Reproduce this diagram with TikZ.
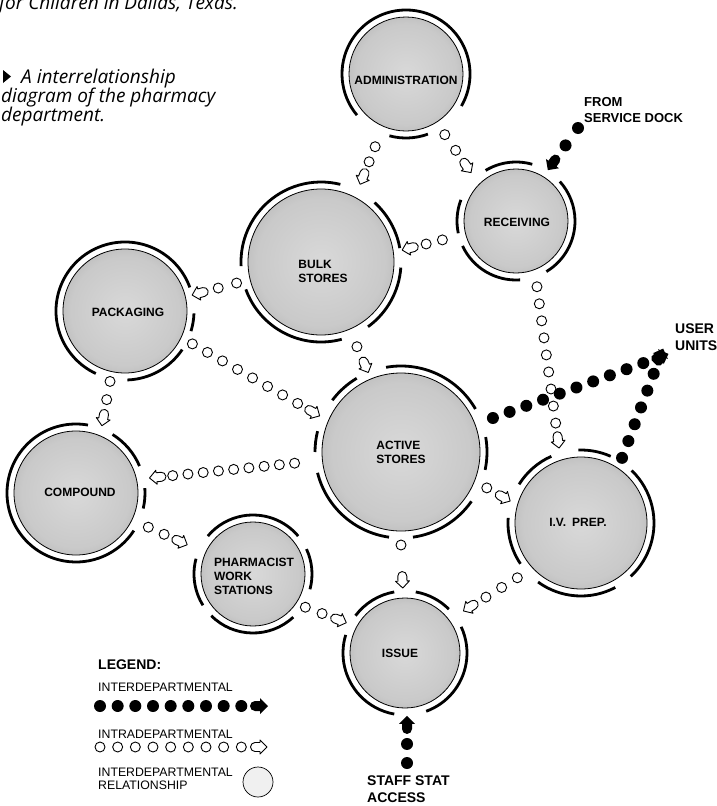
\documentclass[tikz,border=0pt]{standalone}
\usepackage{fontspec}
\setmainfont{Liberation Sans}
\newfontfamily\capfont{Open Sans}
\usetikzlibrary{calc}

% grainy department disc: lighter middle, darker rim
\pgfdeclareradialshading{stipple}{\pgfpoint{0bp}{0bp}}{%
  color(0bp)=(black!15); color(22bp)=(black!21); color(40bp)=(black!38); color(50bp)=(black!48)}

\tikzset{
  dept/.style={circle, draw=black, line width=0.8pt, inner sep=0pt, outer sep=0pt,
    shade, shading=stipple},
  deptlabel/.style={font=\bfseries\fontsize{12}{14}\selectfont, align=left, inner sep=0pt},
  tag/.style={font=\bfseries\fontsize{14}{16.5}\selectfont, align=left, anchor=west, inner sep=0pt},
  smalltag/.style={tag, font=\bfseries\fontsize{13}{15.5}\selectfont},
  keytext/.style={font=\fontsize{12.3}{13}\selectfont, align=left, anchor=west, inner sep=0pt},
  captext/.style={font=\capfont\itshape\fontsize{19}{21}\selectfont, anchor=base west, inner sep=0pt},
  ringarc/.style={line width=2.8pt, line cap=butt},
  obead/.pic={\draw[line width=0.9pt, fill=white] (0,0) circle[radius=5];},
  fbead/.pic={\fill[black] (0,0) circle[radius=6];},
  ohead/.pic={\draw[line width=0.9pt, fill=white, line join=round]
    (1,4.5) -- (-4,4.5) arc[start angle=90, end angle=270, radius=4.5]
    -- (1,-4.5) -- (1,-7) -- (8,0) -- (1,7) -- cycle;},
  fhead/.pic={\fill[black]
    (1,5) -- (-4,5) arc[start angle=90, end angle=270, radius=5]
    -- (1,-5) -- (1,-8) -- (9,0) -- (1,8) -- cycle;},
}

% thick broken ring round a department: #1 node, #2 radius, #3 start/end angle pairs
\newcommand\ringarcs[3]{%
  \foreach \a/\b in {#3}{%
    \draw[ringarc] ($(#1.center)+(\a:#2)$) arc[start angle=\a, end angle=\b, radius=#2];}}

% chain of beads ending in a head: #1 o (open) or f (filled),
% #2 source, #3/#4 angle/distance of first bead, #5 target, #6/#7 angle/distance of head, #8 beads
\newcommand\trail[8]{%
  \coordinate (ta) at ($(#2.center)+(#3:#4)$);
  \coordinate (tb) at ($(#5.center)+(#6:#7)$);
  \foreach \k in {1,...,#8}{%
    \pgfmathsetmacro\f{(\k-1)/#8}%
    \path ($(ta)!\f!(tb)$) pic{#1bead};}
  \path let \p1=($(tb)-(ta)$), \n1={atan2(\y1,\x1)} in (tb) pic[rotate=\n1]{#1head};}

\begin{document}
\begin{tikzpicture}[x=1pt, y=1pt]
\fill[white] (0,0) rectangle (717,-806);
\useasboundingbox (0,0) rectangle (717,-806);

% caption
\node[captext] (credit) at (-1,-9) {for Children in Dallas, Texas.};
\fill[black] (3,-70) -- (11,-76.5) -- (3,-83) -- cycle;
\node[captext] (cap1) at (21,-83) {A interrelationship};
\node[captext] (cap2) at (1,-102) {diagram of the pharmacy};
\node[captext] (cap3) at (1,-121) {department.};

% departments
\node[dept, minimum size=114] (adm) at (406,-74) {};
\node[dept, minimum size=104] (rec) at (516,-221) {};
\node[dept, minimum size=146] (bulk) at (321,-262) {};
\node[dept, minimum size=124] (pack) at (125,-311) {};
\node[dept, minimum size=158] (act) at (401,-452) {};
\node[dept, minimum size=124] (comp) at (76,-493) {};
\node[dept, minimum size=104] (pharm) at (253,-574) {};
\node[dept, minimum size=132] (iv) at (581,-523) {};
\node[dept, minimum size=110] (iss) at (405,-653) {};

\ringarcs{adm}{64}{-30/220, 255/290}
\ringarcs{rec}{59}{74/121, 159/192, 205/274, -59/42}
\ringarcs{bulk}{80}{76/183, 200/285, -54/-4, 10/48}
\ringarcs{pack}{69}{20/245, 272/326, 343/358}
\ringarcs{act}{86}{30/100, 121/143, 166/180, 194/262, 278/325, 348/370}
\ringarcs{comp}{69}{23/58, 80/327, 347/364}
\ringarcs{pharm}{59}{-15/25, 40/140, 165/212, 225/313}
\ringarcs{iv}{73}{66/92, 114/148, 176/214, 234/298, 313/406}
\ringarcs{iss}{62}{45/80, 100/143, 163/260, 290/385}

\node[deptlabel] (adm-t) at ($(adm.center)+(0,-6)$) {ADMINISTRATION};
\node[deptlabel] (rec-t) at ($(rec.center)+(1,-1)$) {RECEIVING};
\node[deptlabel] (bulk-t) at ($(bulk.center)+(2,-9)$) {BULK\\STORES};
\node[deptlabel] (pack-t) at ($(pack.center)+(3,-1)$) {PACKAGING};
\node[deptlabel] (act-t) at ($(act.center)+(0,0)$) {ACTIVE\\STORES};
\node[deptlabel] (comp-t) at ($(comp.center)+(4,1)$) {COMPOUND};
\node[deptlabel] (pharm-t) at ($(pharm.center)+(1,-2)$) {PHARMACIST\\WORK\\STATIONS};
\node[deptlabel] (iv-t) at ($(iv.center)+(-3,1)$) {I.V.\enspace PREP.};
\node[deptlabel] (iss-t) at ($(iss.center)+(-5,0)$) {ISSUE};

% intradepartmental flows
\trail{o}{adm}{247}{79}{bulk}{63.7}{95}{2}
\trail{o}{adm}{-57.4}{72}{rec}{132}{74}{2}
\trail{o}{rec}{194.4}{76}{bulk}{8.9}{90}{2}
\trail{o}{bulk}{194}{87}{pack}{13.5}{77}{2}
\trail{o}{bulk}{-67}{92}{act}{112.5}{94}{1}
\trail{o}{pack}{-26}{75}{act}{155.6}{97}{8}
\trail{o}{pack}{258}{72}{comp}{70}{80}{2}
\trail{o}{act}{186}{107}{comp}{11}{83}{9}
\trail{o}{comp}{-25.3}{80}{pharm}{156}{80}{2}
\trail{o}{pharm}{-32.4}{62}{iss}{153.4}{74}{2}
\trail{o}{act}{-90}{93}{iss}{92}{73}{1}
\trail{o}{act}{-22.7}{93}{iv}{161.6}{82}{1}
\trail{o}{iv}{220.7}{84}{iss}{35.3}{80}{3}
\trail{o}{rec}{-72.3}{69}{iv}{105.5}{86}{9}

% interdepartmental flows
\coordinate (dock) at (578,-128);
\coordinate (user) at (660,-357);
\coordinate (staff) at (407,-763);
\trail{f}{dock}{0}{0}{rec}{57.5}{69}{2}
\trail{f}{act}{20.3}{98}{user}{0}{0}{10}
\trail{f}{iv}{57.8}{77}{user}{0}{0}{6}
\trail{f}{staff}{0}{0}{iss}{-88.4}{72}{2}

\node[smalltag] (dock-t) at (584,-110) {FROM\\SERVICE DOCK};
\node[tag] (user-t) at (675,-337) {USER\\UNITS};
\node[tag] (staff-t) at (367,-789) {STAFF STAT\\ACCESS};

% legend
\node[tag] (key) at (98,-665) {LEGEND:};
\node[keytext] (key1) at (98,-687) {INTERDEPARTMENTAL};
\coordinate (k1a) at (100,-706);
\coordinate (k1b) at (259,-706);
\trail{f}{k1a}{0}{0}{k1b}{0}{0}{9}
\node[keytext] (key2) at (98,-734) {INTRADEPARTMENTAL};
\coordinate (k2a) at (100,-747);
\coordinate (k2b) at (259,-747);
\trail{o}{k2a}{0}{0}{k2b}{0}{0}{9}
\node[keytext] (key3) at (98,-779) {INTERDEPARTMENTAL\\RELATIONSHIP};
\node[circle, draw=black, line width=0.7pt, fill=black!6, minimum size=30, inner sep=0pt] (keydisc) at (258,-782) {};
\end{tikzpicture}
\end{document}
